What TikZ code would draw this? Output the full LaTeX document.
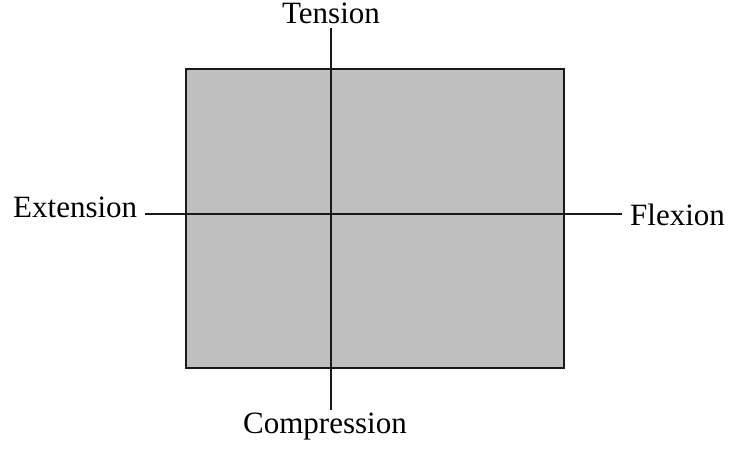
\documentclass[tikz,border=0pt]{standalone}
\usepackage{fontspec}
\setmainfont{Liberation Serif}
\begin{document}
\begin{tikzpicture}[x=1pt,y=-1pt,
  lbl/.style={inner sep=0pt,font=\fontsize{31}{34}\selectfont},
  axis/.style={line width=2.1pt,black!90},
  panel/.style={draw=black!90,line width=2.3pt,fill=black!25}]
\useasboundingbox (0,0) rectangle (729,448);
% shaded panel
\node[panel,minimum width=378pt,minimum height=299pt,inner sep=0pt,anchor=north west] (box) at (185,68) {};
% axis labels
\node[lbl,anchor=base] (ten) at (331,23) {Tension};
\node[lbl,anchor=base] (com) at (325,433) {Compression};
\node[lbl,anchor=base west] (ext) at (13,217) {Extension};
\node[lbl,anchor=base west] (flx) at (630,225) {Flexion};
% axis end points
\coordinate (vtop) at (331,28);
\coordinate (vbot) at (331,410);
\coordinate (hl) at (145,214);
\coordinate (hr) at (622,214);
\draw[axis] (vtop) -- (vbot);
\draw[axis] (hl) -- (hr);
\end{tikzpicture}
\end{document}
